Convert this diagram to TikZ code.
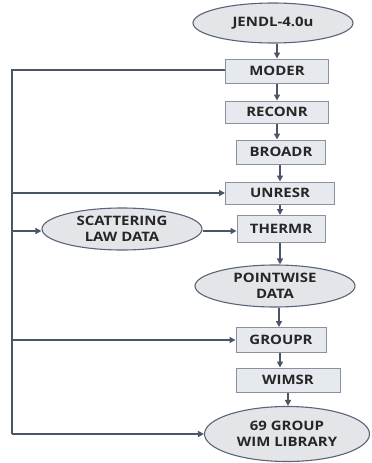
\documentclass[tikz,border=0pt]{standalone}
\usepackage{fontspec}
\setmainfont{Open Sans}[FakeStretch=1.15]
\usetikzlibrary{shapes.geometric,arrows.meta}
\definecolor{lineC}{HTML}{4A5568}
\definecolor{boxF}{HTML}{E6E9EE}
\definecolor{boxD}{HTML}{8A909C}
\definecolor{ellF}{HTML}{E3E5E9}
\definecolor{ellD}{HTML}{5A6478}
\begin{document}
\begin{tikzpicture}[x=1pt,y=-1pt,
  stepbox/.style={draw=boxD,fill=boxF,line width=1pt,rectangle,inner sep=0pt,
     font=\fontsize{13}{14}\selectfont\bfseries,text=black!85},
  databox/.style={draw=ellD,fill=ellF,line width=1.1pt,ellipse,inner sep=0pt,
     font=\fontsize{13}{15.5}\selectfont\bfseries,text=black!85,align=center},
  conn/.style={draw=lineC,line width=1.6pt,-{Triangle[length=6pt,width=6pt]}},
  trunk/.style={draw=lineC,line width=2.2pt}]
\useasboundingbox (0,0) rectangle (372,463);
\node[databox,minimum width=160pt,minimum height=40pt] (jendl) at (273,23) {JENDL-4.0u};
\node[stepbox,minimum width=103pt,minimum height=24pt] (moder) at (277,71) {MODER};
\node[stepbox,minimum width=103pt,minimum height=22pt] (reconr) at (277,112) {RECONR};
\node[stepbox,minimum width=89pt,minimum height=24pt] (broadr) at (281,152) {BROADR};
\node[stepbox,minimum width=109pt,minimum height=22pt] (unresr) at (280,193) {UNRESR};
\node[stepbox,minimum width=88pt,minimum height=27pt] (thermr) at (281,229) {THERMR};
\node[databox,minimum width=160pt,minimum height=42pt] (scat) at (122,229) {SCATTERING\\LAW DATA};
\node[databox,minimum width=160pt,minimum height=42pt] (point) at (275,286) {POINTWISE\\DATA};
\node[stepbox,minimum width=90pt,minimum height=25pt] (groupr) at (281,340) {GROUPR};
\node[stepbox,minimum width=104pt,minimum height=24pt] (wimsr) at (288,380) {WIMSR};
\node[databox,minimum width=165pt,minimum height=55pt] (lib) at (287,434) {69 GROUP\\WIM LIBRARY};
\coordinate (tl) at (12,70);
\coordinate (bl) at (12,434);
% main chain
\draw[conn] (jendl.south -| 277,0) -- (moder.north -| 277,0);
\draw[conn] (moder.south -| 277,0) -- (reconr.north -| 277,0);
\draw[conn] (reconr.south -| 277,0) -- (broadr.north -| 277,0);
\draw[conn] (broadr.south -| 280,0) -- (unresr.north -| 280,0);
\draw[conn] (unresr.south -| 280,0) -- (thermr.north -| 280,0);
\draw[conn] (thermr.south -| 280,0) -- (point.north -| 280,0);
\draw[conn] (point.south -| 279,0) -- (groupr.north -| 279,0);
\draw[conn] (groupr.south -| 280,0) -- (wimsr.north -| 280,0);
\draw[conn] (wimsr.south -| 288,0) -- (lib.north -| 288,0);
\draw[conn] (scat.east |- 0,231) -- (thermr.west |- 0,231);
% feedback trunk
\draw[trunk] (moder.west |- tl) -- (tl) -- (bl);
\draw[conn] (12,193) -- (unresr.west);
\draw[conn] (12,231) -- (scat.west |- 0,231);
\draw[conn] (12,340) -- (groupr.west);
\draw[conn] (bl) -- (lib.west |- bl);
\end{tikzpicture}
\end{document}
